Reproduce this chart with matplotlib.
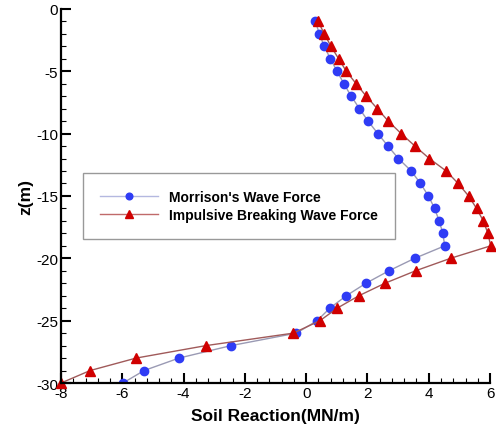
import matplotlib
matplotlib.use('Agg')
from matplotlib import pyplot as plt
import numpy as np

plt.rcParams['font.family'] = ['Liberation Sans', 'DejaVu Sans']
plt.rcParams['axes.unicode_minus'] = False

# depth (m)
z = [-1, -2, -3, -4, -5, -6, -7, -8, -9, -10,
     -11, -12, -13, -14, -15, -16, -17, -18, -19, -20,
     -21, -22, -23, -24, -25, -26, -27, -28, -29, -30]

# soil reaction (MN/m), Morrison's wave force
morrison = [0.30, 0.43, 0.59, 0.79, 1.01, 1.23, 1.47, 1.74, 2.02, 2.34,
            2.67, 3.01, 3.43, 3.73, 3.99, 4.19, 4.34, 4.46, 4.52, 3.54,
            2.70, 1.95, 1.31, 0.77, 0.36, -0.32, -2.45, -4.15, -5.29, -5.98]

# soil reaction (MN/m), impulsive breaking wave force
impulsive = [0.39, 0.59, 0.81, 1.06, 1.31, 1.63, 1.96, 2.32, 2.68, 3.10,
             3.55, 4.02, 4.57, 4.96, 5.30, 5.56, 5.78, 5.93, 6.02, 4.71,
             3.57, 2.57, 1.72, 1.01, 0.45, -0.42, -3.27, -5.55, -7.05, -8.0]

fig = plt.figure(figsize=(4.96, 4.31), dpi=100)
ax = fig.add_axes([0.123, 0.109, 0.865, 0.868])

ax.plot(morrison, z, color='#9a9ab4', lw=1.0, marker='o', ms=6,
        mfc='#2f3cf5', mec='#2f3cf5', label="Morrison's Wave Force")
ax.plot(impulsive, z, color='#a05a5a', lw=1.0, marker='^', ms=6.5,
        mfc='#d00000', mec='#d00000', label='Impulsive Breaking Wave Force',
        clip_on=False)

ax.set_xlim(-8, 6)
ax.set_ylim(-30, 0)
ax.set_xticks(np.arange(-8, 7, 2))
ax.set_yticks(np.arange(-30, 1, 5))
ax.set_xticks(np.arange(-8, 6.01, 0.4), minor=True)
ax.set_yticks(np.arange(-30, 0.01, 1), minor=True)

for s in ['top', 'right']:
    ax.spines[s].set_visible(False)
for s in ['left', 'bottom']:
    ax.spines[s].set_linewidth(1.6)

ax.tick_params(which='major', direction='in', length=7, width=1.5,
               labelsize=11, pad=2)
ax.tick_params(which='minor', direction='in', length=3.5, width=0.8)

ax.set_xlabel('Soil Reaction(MN/m)', fontsize=12.5, fontweight='bold', labelpad=6)
ax.set_ylabel('z(m)', fontsize=12.5, fontweight='bold', labelpad=2)

leg = ax.legend(loc='upper left', bbox_to_anchor=(0.051, 0.561),
                prop={'weight': 'bold', 'size': 10}, handlelength=4.2,
                handletextpad=0.8, borderpad=1.2, labelspacing=0.3,
                markerscale=0.8, fancybox=False, framealpha=1, borderaxespad=0)
leg.get_frame().set_edgecolor('#999999')
leg.get_frame().set_linewidth(1.0)
leg.get_lines()[0].set_color('#b4b8e0')
leg.get_lines()[1].set_color('#c06a6a')

fig.savefig('out.png', dpi=100)
